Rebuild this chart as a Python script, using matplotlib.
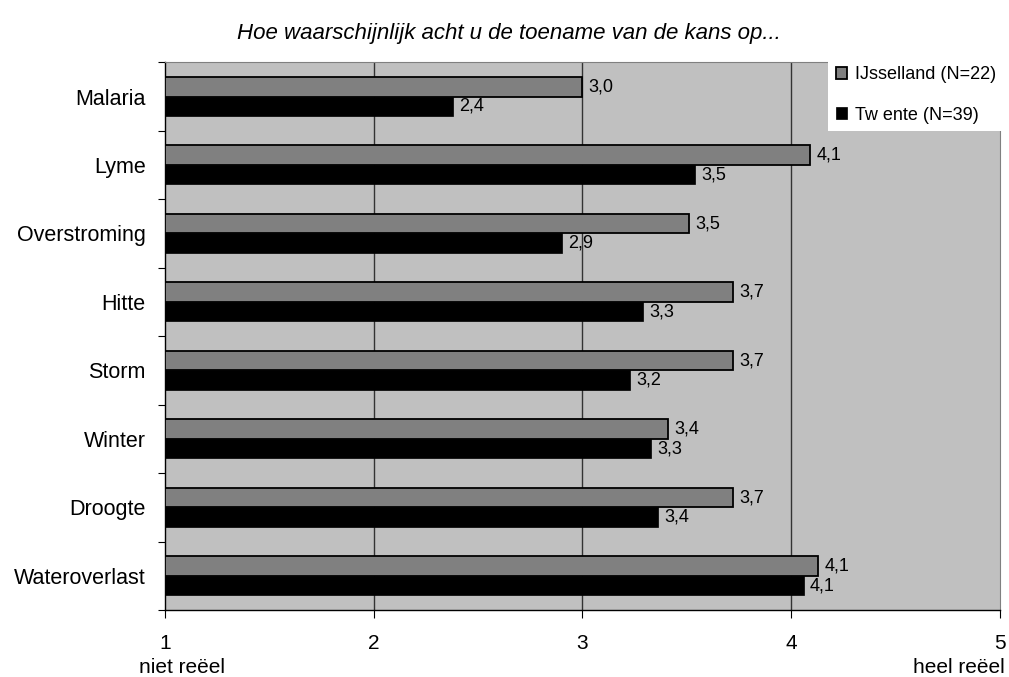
"""Horizontal bar chart: perceived likelihood of increased risks per region"""

import numpy as np
import matplotlib.pyplot as plt

plt.rcParams["font.family"] = ["Liberation Sans", "DejaVu Sans"]

categories = ["Malaria", "Lyme", "Overstroming", "Hitte", "Storm",
              "Winter", "Droogte", "Wateroverlast"]
ijsselland = [3.00, 4.09, 3.51, 3.72, 3.72, 3.41, 3.72, 4.13]
twente = [2.38, 3.54, 2.90, 3.29, 3.23, 3.33, 3.36, 4.06]
series_names = ["IJsselland (N=22)", "Tw ente (N=39)"]
x_ticks = [1, 2, 3, 4, 5]

fig = plt.figure(figsize=(10.09, 6.77), dpi=100)
ax = fig.add_axes([0.1635, 0.099, 0.8275, 0.809])
ax.set_facecolor("#c0c0c0")

y = np.arange(len(categories))
h = 0.285
ij = np.array(ijsselland)
tw = np.array(twente)

ax.barh(y - h / 2, ij - 1, left=1, height=h, color="#808080",
        edgecolor="black", linewidth=1.3, label=series_names[0], zorder=3)
ax.barh(y + h / 2, tw - 1, left=1, height=h, color="black",
        edgecolor="black", linewidth=0.5, label=series_names[1], zorder=3)

# value labels, Dutch decimal comma
for yi, v in zip(y - h / 2, ij):
    ax.text(v + 0.03, yi, f"{v:.1f}".replace(".", ","), va="center",
            ha="left", fontsize=13, zorder=4)
for yi, v in zip(y + h / 2, tw):
    ax.text(v + 0.03, yi, f"{v:.1f}".replace(".", ","), va="center",
            ha="left", fontsize=13, zorder=4)

ax.set_xlim(1, 5)
ax.set_ylim(len(categories) - 0.5, -0.5)
ax.set_xticks(x_ticks)
ax.set_xticklabels([str(t) for t in x_ticks], fontsize=15)
ax.tick_params(axis="x", length=6, direction="out", pad=11)

# category names sit between the boundary ticks
ax.set_yticks(np.arange(len(categories) + 1) - 0.5)
ax.set_yticklabels([])
ax.set_yticks(y, minor=True)
ax.set_yticklabels(categories, minor=True, fontsize=15.5)
ax.tick_params(axis="y", which="major", length=5, direction="out")
ax.tick_params(axis="y", which="minor", length=0, pad=14)

for xv in x_ticks[1:-1]:
    ax.axvline(xv, color="#333333", linewidth=1, zorder=1)

for side in ["top", "right"]:
    ax.spines[side].set_color("#808080")
for side in ["left", "bottom"]:
    ax.spines[side].set_color("black")
    ax.spines[side].set_linewidth(1)

fig.text(0.504, 0.951, "Hoe waarschijnlijk acht u de toename van de kans op...",
         ha="center", va="center", fontsize=16, style="italic")
fig.text(0.180, 0.0133, "niet reëel", ha="center", va="center", fontsize=15)
fig.text(0.996, 0.0133, "heel reëel", ha="right", va="center", fontsize=15)

leg = ax.legend(loc="upper right", bbox_to_anchor=(0.994, 0.913),
                bbox_transform=fig.transFigure, borderaxespad=0,
                fontsize=13, frameon=True, fancybox=False,
                handlelength=0.65, handleheight=0.65, handletextpad=0.4,
                borderpad=0.4, labelspacing=1.3)
leg.get_frame().set_facecolor("white")
leg.get_frame().set_edgecolor("none")
leg.get_frame().set_alpha(1)

fig.savefig("out.png", dpi=100)
